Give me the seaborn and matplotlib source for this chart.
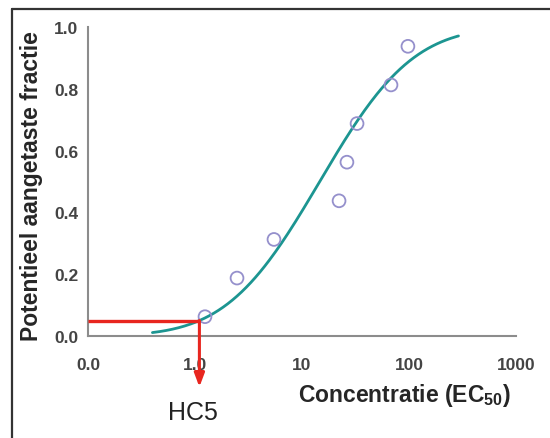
import math
import numpy as np
import pandas as pd
import seaborn as sns
import matplotlib.pyplot as plt
from matplotlib.lines import Line2D

# observed EC50 values (species) and their plotting positions
ec50 = [1.24, 2.47, 5.47, 22.2, 26.3, 32.7, 67.9, 97.7]
fraction = [0.0625, 0.1875, 0.3125, 0.4375, 0.5625, 0.6875, 0.8125, 0.9375]

x_ticks = [0.1, 1, 10, 100, 1000]
x_tick_labels = ['0.0', '1.0', '10', '100', '1000']
y_ticks = [0.0, 0.2, 0.4, 0.6, 0.8, 1.0]
y_tick_labels = ['0.0', '0.2', '0.4', '0.6', '0.8', '1.0']

curve_range = (0.4, 290)   # drawn span of the fitted curve
hc5_level = 0.05

TEAL = '#1c9591'
LAVENDER = '#9590cc'
RED = '#e8261f'
AXIS_GRAY = '#8c8c8c'


def lognormal_fit(values):
    logs = np.log10(values)
    return logs.mean(), logs.std(ddof=1)


def lognormal_cdf(x, mu, sd):
    z = (np.log10(x) - mu) / sd
    return np.array([0.5 * (1 + math.erf(v / math.sqrt(2))) for v in z])


sns.set_style('white')
plt.rcParams['font.family'] = ['Liberation Sans', 'DejaVu Sans']
plt.rcParams['mathtext.fontset'] = 'custom'
plt.rcParams['mathtext.rm'] = 'Liberation Sans'
plt.rcParams['mathtext.bf'] = 'Liberation Sans:bold'

fig = plt.figure(figsize=(5.5, 4.39), dpi=100)
ax = fig.add_axes([88 / 550, 1 - 337 / 439, 428 / 550, 309 / 439])

mu, sd = lognormal_fit(ec50)
xs = np.geomspace(curve_range[0], curve_range[1], 200)
curve = pd.DataFrame({'x': xs, 'y': lognormal_cdf(xs, mu, sd)})
points = pd.DataFrame({'x': ec50, 'y': fraction})
hc5 = 10 ** (mu - 1.645 * sd)

sns.lineplot(data=curve, x='x', y='y', color=TEAL, lw=2.0, ax=ax, zorder=2)
sns.scatterplot(data=points, x='x', y='y', marker='o', s=85,
                facecolor='none', edgecolor=LAVENDER, linewidth=1.3,
                ax=ax, zorder=3)

ax.set_xscale('log')
ax.set_xlim(0.1, 1000)
ax.set_ylim(0, 1.0)
ax.set_xticks(x_ticks)
ax.set_xticklabels(x_tick_labels)
ax.minorticks_off()
ax.set_yticks(y_ticks)
ax.set_yticklabels(y_tick_labels)
ax.tick_params(axis='both', direction='inout', length=6, width=1.2,
               color=AXIS_GRAY, labelsize=12.5, labelcolor='#444444')
ax.tick_params(axis='x', pad=12)
ax.tick_params(axis='y', pad=4)
for lbl in ax.get_xticklabels() + ax.get_yticklabels():
    lbl.set_fontweight('bold')

sns.despine(ax=ax)
for side in ['left', 'bottom']:
    ax.spines[side].set_color(AXIS_GRAY)
    ax.spines[side].set_linewidth(1.5)

ax.set_xlabel(r'Concentratie (EC$_{\mathbf{50}}$)', fontsize=16.5,
              fontweight='bold')
ax.xaxis.set_label_coords(0.74, -0.145)
ax.set_ylabel('Potentieel aangetaste fractie', fontsize=16.5,
              fontweight='bold')
ax.yaxis.set_label_coords(-0.105, 0.49)

# HC5 marker: horizontal line then arrow down
ax.plot([0.1, hc5], [hc5_level, hc5_level], color=RED, lw=2.4,
        clip_on=False, zorder=4, solid_capstyle='butt')
ax.annotate('', xy=(hc5, -0.165), xytext=(hc5, hc5_level),
            arrowprops=dict(arrowstyle='-|>,head_length=0.8,head_width=0.3',
                            color=RED, lw=2.2, shrinkA=0, shrinkB=0),
            annotation_clip=False, zorder=4)
ax.text(0.96, -0.245, 'HC5', fontsize=18, ha='center', va='center',
        color='#222222', family=['Liberation Sans Narrow', 'Liberation Sans'],
        clip_on=False)

# frame around the figure (top and left edges visible)
fig.add_artist(Line2D([12 / 550, 12 / 550], [0, 1 - 10 / 439],
                      color='#333333', lw=1.6))
fig.add_artist(Line2D([12 / 550, 1], [1 - 10 / 439, 1 - 10 / 439],
                      color='#333333', lw=1.6))

fig.savefig('out.png', dpi=100)
